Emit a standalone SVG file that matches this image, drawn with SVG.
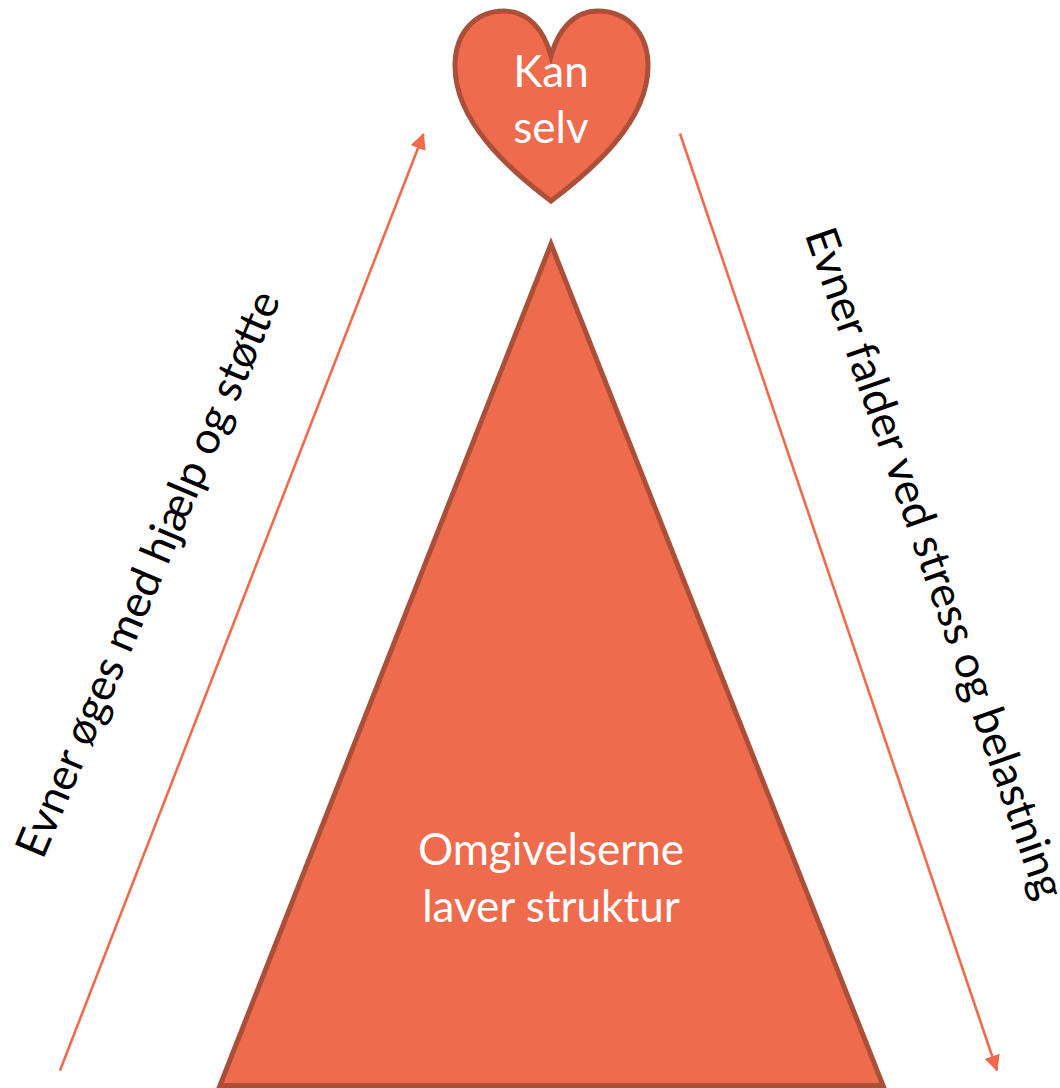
<svg xmlns="http://www.w3.org/2000/svg" width="1060" height="1088" viewBox="0 0 1060 1088">
<style>
.shape{fill:#ee6c4d;stroke:#ac4f38;stroke-width:5;stroke-linejoin:miter}
.inner{font-family:Lato,"Open Sans",sans-serif;font-size:44px;fill:#fff;text-anchor:middle}
.side{font-family:Lato,"Open Sans",sans-serif;font-size:44.300px;fill:#000;text-anchor:middle}
.conn{stroke:#ee6c4d;stroke-width:2.600;fill:none;marker-end:url(#ah)}
</style>
<defs><marker id="ah" viewBox="0 0 16 16" refX="15" refY="8" markerUnits="userSpaceOnUse" markerWidth="16" markerHeight="16" orient="auto"><path d="M0 0L16 8L0 16Z" fill="#ee6c4d"/></marker></defs>
<rect width="1060" height="1088" fill="#fff"/>
<g id="connectors">
<line class="conn" x1="60" y1="1070.500" x2="423.500" y2="134"/>
<line class="conn" x1="680" y1="133.500" x2="997" y2="1070.500"/>
</g>
<g id="node-heart">
<path class="shape" d="M551 201C510 170 455 122 455 66C455 32 476 11 504 11C528 11 544 30 551 56C558 30 574 11 598 11C626 11 648 32 648 66C648 122 592 170 551 201Z"/>
<text class="inner" x="551" y="87">Kan</text>
<text class="inner" x="551" y="143">selv</text>
</g>
<g id="node-triangle">
<path class="shape" d="M551 244L883 1085.500H220Z"/>
<text class="inner" x="551" y="865">Omgivelserne</text>
<text class="inner" x="551" y="922">laver struktur</text>
</g>
<g id="label-left"><text class="side" transform="translate(148 574) rotate(-67)" y="15">Evner øges med hjælp og støtte</text></g>
<g id="label-right"><text class="side" transform="translate(935 563) rotate(70.800)" y="15">Evner falder ved stress og belastning</text></g>
</svg>
